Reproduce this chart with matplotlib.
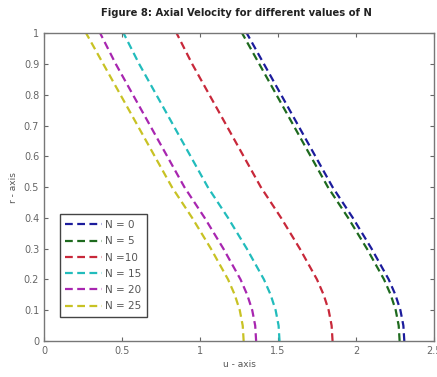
import matplotlib.pyplot as plt

# radial position (vertical axis)
r = [0.0, 0.05, 0.1, 0.15, 0.2, 0.3, 0.4, 0.5, 0.6, 0.7, 0.8, 0.9, 1.0]

# axial velocity for each N
u_n0 = [2.310, 2.304, 2.285, 2.253, 2.21, 2.10, 1.98, 1.85, 1.74, 1.63, 1.52, 1.41, 1.30]
u_n5 = [2.280, 2.274, 2.255, 2.223, 2.18, 2.07, 1.95, 1.82, 1.71, 1.60, 1.49, 1.38, 1.27]
u_n10 = [1.850, 1.844, 1.825, 1.793, 1.75, 1.64, 1.52, 1.39, 1.28, 1.17, 1.06, 0.95, 0.85]
u_n15 = [1.510, 1.504, 1.485, 1.453, 1.41, 1.30, 1.18, 1.05, 0.94, 0.83, 0.72, 0.61, 0.51]
u_n20 = [1.360, 1.354, 1.335, 1.303, 1.26, 1.15, 1.03, 0.90, 0.79, 0.68, 0.57, 0.46, 0.36]
u_n25 = [1.280, 1.274, 1.255, 1.223, 1.18, 1.07, 0.95, 0.82, 0.71, 0.60, 0.49, 0.38, 0.27]

labels = ["N = 0", "N = 5", "N =10", "N = 15", "N = 20", "N = 25"]
series = [u_n0, u_n5, u_n10, u_n15, u_n20, u_n25]
colors = ["#1c1c9c", "#1e6a1e", "#c8283a", "#22bcbc", "#a826b0", "#c8c224"]

fig = plt.figure(figsize=(4.37, 3.77), dpi=100)
ax = fig.add_axes([0.1007, 0.0955, 0.8923, 0.8165])

for u, lab, c in zip(series, labels, colors):
    ax.plot(u, r, linestyle=(0, (3.5, 2.0)), color=c, linewidth=1.6, label=lab)

ax.set_xlim(0, 2.5)
ax.set_ylim(0, 1)
ax.set_xticks([0, 0.5, 1, 1.5, 2, 2.5])
ax.set_xticklabels(["0", "0.5", "1", "1.5", "2", "2.5"])
ax.set_yticks([0, 0.1, 0.2, 0.3, 0.4, 0.5, 0.6, 0.7, 0.8, 0.9, 1])
ax.set_yticklabels(["0", "0.1", "0.2", "0.3", "0.4", "0.5", "0.6", "0.7", "0.8", "0.9", "1"])
ax.tick_params(direction="in", top=True, right=True, labelsize=7, colors="#666666",
               length=3, width=0.8)
for s in ax.spines.values():
    s.set_color("#777777")
    s.set_linewidth(1.0)

ax.set_xlabel("u - axis", fontsize=6.5, color="#555555", labelpad=3)
ax.set_ylabel("r - axis", fontsize=6.5, color="#555555", labelpad=4)
fig.text(0.54, 0.965, "Figure 8: Axial Velocity for different values of N",
         ha="center", va="center", fontsize=8, fontweight="bold",
         fontstretch="condensed", color="#222222")

leg = ax.legend(loc="lower left", bbox_to_anchor=(0.04, 0.078), borderaxespad=0,
                fancybox=False, edgecolor="#444444", fontsize=7.5, handlelength=3.5,
                handletextpad=0.3, labelspacing=0.6, borderpad=0.55, framealpha=1)
leg.get_frame().set_linewidth(1.0)
for t in leg.get_texts():
    t.set_color("#555555")

plt.savefig("out.png", dpi=100)
